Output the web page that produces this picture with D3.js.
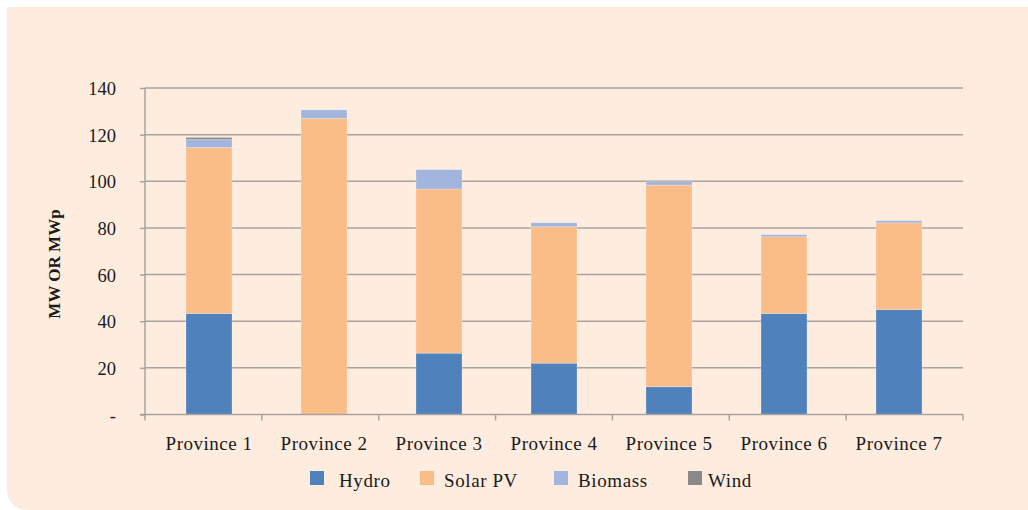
<!DOCTYPE html>
<html>
<head>
<meta charset="utf-8">
<script src="https://cdn.jsdelivr.net/npm/d3@7"></script>
<style>
  html, body { margin: 0; padding: 0; background: #ffffff; }
  svg { display: block; }
  text { font-family: "Liberation Serif", "Times New Roman", serif; fill: #1a1a1a; }
</style>
</head>
<body>
<svg id="chart" width="1028" height="510"></svg>
<script>
// Installed capacity by province and source (MW or MWp)
const provinces = ["Province 1", "Province 2", "Province 3", "Province 4", "Province 5", "Province 6", "Province 7"];
const hydro   = [43.3, 0, 26.3, 22.0, 11.9, 43.3, 45.0];
const solarPV = [71.2, 127.0, 70.4, 58.5, 86.5, 32.9, 37.2];
const biomass = [3.4, 3.6, 8.3, 1.7, 1.4, 0.9, 0.9];
const wind    = [0.9, 0, 0, 0, 0, 0, 0];
const seriesNames = ["Hydro", "Solar PV", "Biomass", "Wind"];
const yTicks = [0, 20, 40, 60, 80, 100, 120, 140];

const colors = {
  "Hydro": "#4f81bd",
  "Solar PV": "#fbbd87",
  "Biomass": "#a1b5de",
  "Wind": "#898989"
};

const svg = d3.select("#chart");

// Panel background with rounded lower-left corner
const bx = 7, by = 7, r = 22;
svg.append("path")
  .attr("d", `M${bx},${by} H1028 V510 H${bx + r} Q${bx},510 ${bx},${510 - r} Z`)
  .attr("fill", "#feeddf");

const plotLeft = 145, plotRight = 963, plotTop = 88, plotBottom = 414.5;

// Bars sit on a slightly narrower band than the axis frame
const x = d3.scaleBand()
  .domain(provinces)
  .range([151.5, 956.5])
  .paddingInner(0.6)
  .paddingOuter(0.3);
const y = d3.scaleLinear().domain([0, 140]).range([plotBottom, plotTop]);

const rows = provinces.map((p, i) => ({
  province: p,
  "Hydro": hydro[i],
  "Solar PV": solarPV[i],
  "Biomass": biomass[i],
  "Wind": wind[i]
}));
const stacked = d3.stack().keys(seriesNames)(rows);

// Horizontal gridlines
svg.append("g")
  .selectAll("line")
  .data(yTicks.filter(t => t > 0))
  .join("line")
  .attr("x1", plotLeft).attr("x2", plotRight)
  .attr("y1", d => y(d)).attr("y2", d => y(d))
  .attr("stroke", "#a8a3a0")
  .attr("stroke-width", 1.5);

// Stacked bars
svg.append("g")
  .selectAll("g")
  .data(stacked)
  .join("g")
  .attr("fill", d => colors[d.key])
  .selectAll("rect")
  .data(d => d.filter(s => s[1] - s[0] > 0))
  .join("rect")
  .attr("x", d => x(d.data.province))
  .attr("width", x.bandwidth())
  .attr("y", d => y(d[1]))
  .attr("height", d => y(d[0]) - y(d[1]))
  .attr("stroke", "rgba(255,255,255,0.3)")
  .attr("stroke-width", 0.8);

// Y axis
const yAxis = d3.axisLeft(y)
  .tickValues(yTicks)
  .tickSize(5)
  .tickPadding(24)
  .tickFormat(d => d === 0 ? "-" : d3.format("d")(d));
const yg = svg.append("g").attr("transform", `translate(${plotLeft},0)`).call(yAxis);
yg.select(".domain").attr("stroke", "#a8a3a0").attr("stroke-width", 1.5)
  .attr("d", `M0,${plotTop}V${plotBottom}`);
yg.selectAll(".tick line").attr("stroke", "#a8a3a0").attr("stroke-width", 1.5);
yg.selectAll(".tick text")
  .attr("font-family", "Liberation Serif, serif")
  .attr("font-size", 18.5)
  .attr("fill", "#1a1a1a")
  .attr("dy", "0.36em");

// X axis
const xAxis = d3.axisBottom(x).tickSize(0).tickPadding(22);
const xg = svg.append("g").attr("transform", `translate(0,${plotBottom})`).call(xAxis);
xg.select(".domain").attr("stroke", "#a8a3a0").attr("stroke-width", 1.5)
  .attr("d", `M140,0H${plotRight}`);
xg.selectAll(".tick text")
  .attr("font-family", "Liberation Serif, serif")
  .attr("font-size", 19)
  .attr("letter-spacing", 0.5)
  .attr("fill", "#1a1a1a");
// Category separator ticks
const sepX = provinces.map((p, i) => plotLeft + i * ((plotRight - plotLeft) / provinces.length)).concat([plotRight]);
xg.append("g")
  .selectAll("line")
  .data(sepX)
  .join("line")
  .attr("x1", d => d).attr("x2", d => d)
  .attr("y1", 0).attr("y2", 6)
  .attr("stroke", "#a8a3a0")
  .attr("stroke-width", 1.5);

// Y axis title
svg.append("text")
  .attr("transform", "translate(60,264) rotate(-90)")
  .attr("text-anchor", "middle")
  .attr("font-size", 17)
  .attr("font-weight", "bold")
  .text("MW OR MWp");

// Legend
const legendPos = [
  { sx: 310, tx: 339 },
  { sx: 420, tx: 444 },
  { sx: 554, tx: 578 },
  { sx: 688, tx: 708 }
];
const legend = svg.append("g");
seriesNames.forEach((name, i) => {
  legend.append("rect")
    .attr("x", legendPos[i].sx).attr("y", 471)
    .attr("width", 14).attr("height", 14)
    .attr("fill", colors[name]);
  legend.append("text")
    .attr("x", legendPos[i].tx).attr("y", 487)
    .attr("font-size", 19)
    .attr("letter-spacing", 0.6)
    .text(name);
});
</script>
</body>
</html>
